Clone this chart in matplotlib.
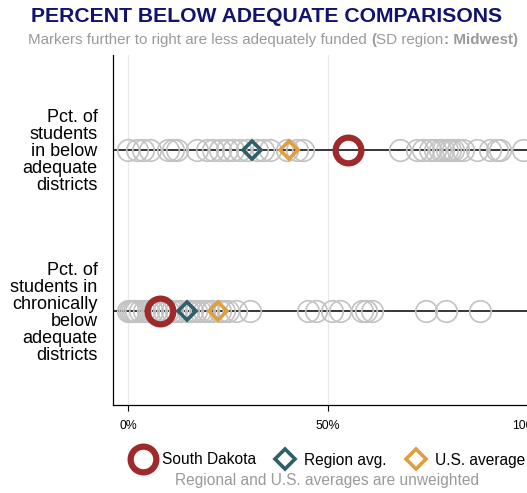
"""
Percent of students in below-adequate districts: South Dakota against all
states, the Midwest region average and the U.S. average.
"""
import matplotlib
matplotlib.use("Agg")
import matplotlib.pyplot as plt
from matplotlib.lines import Line2D

plt.rcParams["font.family"] = ["Liberation Sans", "DejaVu Sans"]

ROW_LABELS = [
    "Pct. of\nstudents\nin below\nadequate\ndistricts",
    "Pct. of\nstudents in\nchronically\nbelow\nadequate\ndistricts",
]
# all states, percent (x) for each row
STATES_BELOW = [
    0, 2.25, 3.75, 5.5, 10, 11.25, 12.25, 17.25, 19.75, 21.25, 23, 24.75,
    26.25, 28, 29.75, 32.25, 33.75, 35.5, 39.75, 42.25, 43.75,
    68, 72.25, 73.75, 75.5, 76.75, 78, 78.75, 79.75, 80.5, 81.25, 82.5,
    83.75, 87.25, 90.5, 92.25, 93, 98.75,
]
STATES_CHRONIC = [
    0, 0.5, 1, 1.5, 2, 3, 4, 5, 6, 7, 9, 10, 11, 12, 13, 15, 16, 17, 18,
    19, 20, 21, 23, 24, 25, 27, 30.5, 45, 47, 51, 53, 58.5, 59.5, 61,
    74.5, 79.5, 88,
]
SD_VALUES = [55, 8]
REGION_AVG = [31, 14.7]
US_AVG = [40.25, 22.5]
XTICKS = [0, 50, 100]
XTICK_LABELS = ["0%", "50%", "100%"]

RED = "#9e2a2b"
TEAL = "#2f5f68"
ORANGE = "#e09f3e"
GRAY = "#c2c2c2"
SUBGRAY = "#9a9a9a"

W, H = 527, 493
fig = plt.figure(figsize=(W / 100, H / 100), dpi=100)
ax = fig.add_axes([113 / W, 1 - 405 / H, (548 - 113) / W, 350 / H])

rows = [1, 0]
for y, states in zip(rows, [STATES_BELOW, STATES_CHRONIC]):
    ax.axhline(y, color="black", lw=1.1, zorder=1)
    ax.plot(states, [y] * len(states), ls="none", marker="o", ms=15.5,
            mfc="none", mec=GRAY, mew=1.2, zorder=2)

ax.plot(SD_VALUES, rows, ls="none", marker="o", ms=18.5, mfc="none",
        mec=RED, mew=4.5, zorder=5)
ax.plot(REGION_AVG, rows, ls="none", marker="D", ms=9.5, mfc="none",
        mec=TEAL, mew=2.6, zorder=4)
ax.plot(US_AVG, rows, ls="none", marker="D", ms=9.5, mfc="none",
        mec=ORANGE, mew=2.6, zorder=4)

ax.set_xlim(-3.75, 105)
ax.set_ylim(-0.585, 1.59)
ax.set_xticks(XTICKS, XTICK_LABELS, fontsize=8.8)
ax.set_yticks(rows, ROW_LABELS, fontsize=13, linespacing=1.0)
ax.tick_params(axis="y", length=0, pad=11)
ax.tick_params(axis="x", length=4, width=0.8, pad=7)
ax.grid(axis="x", color="#eaeaea", lw=0.9)
ax.set_axisbelow(True)
for side in ["top", "right"]:
    ax.spines[side].set_visible(False)
for side in ["left", "bottom"]:
    ax.spines[side].set_linewidth(0.9)

fig.text(267 / W, 1 - 17 / H, "PERCENT BELOW ADEQUATE COMPARISONS",
         ha="center", va="center", fontsize=15.2, fontweight="bold",
         color="#12136e")

# subtitle with bold pieces, centred as a whole
pieces = [
    ("Markers further to right are less adequately funded ", "normal"),
    ("(", "bold"),
    ("SD region", "normal"),
    (": Midwest)", "bold"),
]
renderer = fig.canvas.get_renderer()
texts = [fig.text(0, 1 - 40 / H, s, fontsize=10.9, fontweight=w,
                  color=SUBGRAY, va="center") for s, w in pieces]
widths = [t.get_window_extent(renderer).width for t in texts]
x = 273 - sum(widths) / 2
for t, wd in zip(texts, widths):
    t.set_x(x / W)
    x += wd

handles = [
    Line2D([], [], ls="none", marker="o", ms=18.5, mfc="none", mec=RED, mew=4.5),
    Line2D([], [], ls="none", marker="D", ms=10, mfc="none", mec=TEAL, mew=2.6),
    Line2D([], [], ls="none", marker="D", ms=10, mfc="none", mec=ORANGE, mew=2.6),
]
fig.legend(handles, ["South Dakota", "Region avg.", "U.S. average"],
           loc="center", bbox_to_anchor=(328 / W, 1 - 460 / H), ncol=3,
           frameon=False, fontsize=11.2, handlelength=1.5,
           handletextpad=0.45, columnspacing=1.15)
fig.text(327 / W, 1 - 481 / H, "Regional and U.S. averages are unweighted",
         ha="center", va="center", fontsize=11.2, color=SUBGRAY)

fig.savefig("out.png", dpi=100)
